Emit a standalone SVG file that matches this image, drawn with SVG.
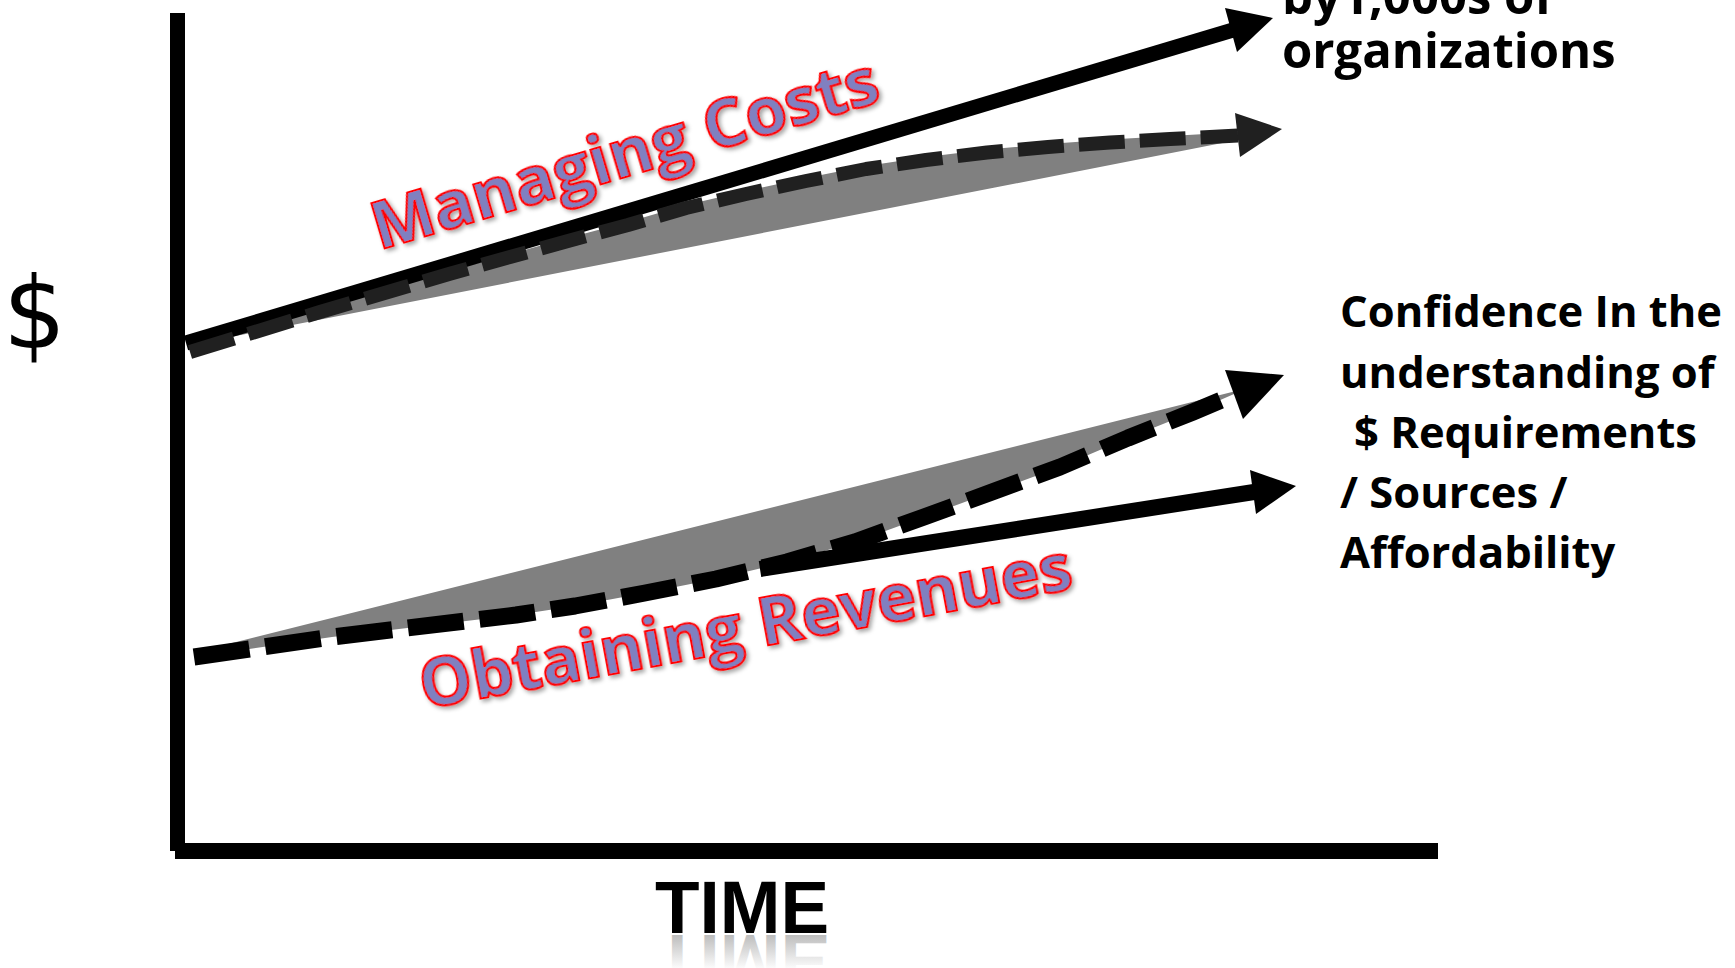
<svg xmlns="http://www.w3.org/2000/svg" width="1735" height="968" viewBox="0 0 1735 968">
<defs>
<style>
.lbl{font-family:"Open Sans","DejaVu Sans",sans-serif;font-weight:700;fill:#000}
.art{font-family:"Open Sans","DejaVu Sans",sans-serif;font-weight:700;fill:#8080c0;stroke:#ff0000;stroke-width:2.2;filter:url(#sh)}
.axis{fill:#000}
.gray{fill:#808080}
.dashTop{fill:none;stroke:#202020;stroke-width:14;stroke-dasharray:46 15;stroke-linejoin:round}
.dashBot{fill:none;stroke:#000;stroke-width:17;stroke-dasharray:56 16;stroke-linejoin:round}
.solid{fill:none;stroke:#000;stroke-width:15;stroke-linejoin:round}
</style>
<filter id="sh" x="-10%" y="-30%" width="120%" height="160%">
<feDropShadow dx="2" dy="3" stdDeviation="2" flood-color="#000" flood-opacity="0.35"/>
</filter>
<linearGradient id="refl" gradientUnits="userSpaceOnUse" x1="0" y1="933" x2="0" y2="898">
<stop offset="0" stop-color="#bdbdbd"/>
<stop offset="1" stop-color="#ffffff"/>
</linearGradient>
</defs>
<rect width="1735" height="968" fill="#fff"/>

<g id="axes">
<rect class="axis" x="170" y="13" width="15" height="838"/>
<rect class="axis" x="175" y="843" width="1263" height="16"/>
</g>

<g id="wedges">
<polygon class="gray" points="190,348 320,308 449,271 510,254 568,238 628,222 686,205 746,191 806,178 866,166 926,157 987,149.5 1048,144 1110,139.5 1170,136 1240,132 1240,139.6 195,344"/>
<polygon class="gray" points="200,651 1240,390 1234,394 1193,412 1128,438 1060,467 992,492 924,517 855,542 787,562 716,579 645,593 575,606 516,615 332,637 194,657"/>
</g>

<g id="connectors">
<g id="cost-solid">
<line class="solid" x1="186" y1="343" x2="1233" y2="30"/>
<polygon fill="#000" points="1273,18 1225,8 1237,52"/>
</g>
<g id="cost-dashed">
<polyline class="dashTop" points="190,352 320,312 449,274 510,257 568,241 628,225 686,208 746,194 806,181 866,169 926,160 987,152.5 1048,147 1110,142.5 1170,139 1238,135.5"/>
<polygon fill="#202020" points="1282,129 1235,113 1240,157"/>
</g>
<g id="rev-solid">
<line class="solid" x1="760" y1="569" x2="1254" y2="492" style="stroke-width:16"/>
<polygon fill="#000" points="1296,486 1250,470 1256,514"/>
</g>
<g id="rev-dashed">
<polyline class="dashBot" points="194,657 332,637 516,615 575,606 645,593 716,579 787,562 855,542 924,517 992,492 1060,467 1128,438 1193,412 1236,394"/>
<polygon fill="#000" points="1284,375 1225,370 1243,419"/>
</g>
</g>

<g id="label-dollar">
<text x="3" y="348" style="font-family:'DejaVu Sans',sans-serif;font-size:99px;fill:#000">$</text>
</g>

<g id="label-top">
<text class="lbl" x="1282" y="14" style="font-size:49px">by1,000s of</text>
<text class="lbl" x="1282" y="68" style="font-size:49px">organizations</text>
</g>

<g id="label-confidence">
<text class="lbl" style="font-size:43.5px">
<tspan x="1340" y="327">Confidence In the</tspan>
<tspan x="1340" y="388">understanding of</tspan>
<tspan x="1354" y="448">$ Requirements</tspan>
<tspan x="1340" y="508">/ Sources /</tspan>
<tspan x="1340" y="568">Affordability</tspan>
</text>
</g>

<g id="label-managing">
<text class="art" x="379" y="250" transform="rotate(-16.5 379 250)" style="font-size:67px">Managing Costs</text>
</g>

<g id="label-obtaining">
<text class="art" x="424" y="709" transform="rotate(-10.5 424 709)" style="font-size:66px">Obtaining Revenues</text>
</g>

<g id="label-time">
<text x="655" y="933" textLength="174" lengthAdjust="spacingAndGlyphs" style="font-family:'Liberation Sans',Arial,sans-serif;font-weight:700;font-size:75px;fill:#000">TIME</text>
<text x="655" y="933" textLength="174" lengthAdjust="spacingAndGlyphs" transform="translate(0,1868) scale(1,-1)" style="font-family:'Liberation Sans',Arial,sans-serif;font-weight:700;font-size:75px;fill:url(#refl)">TIME</text>
</g>
</svg>
